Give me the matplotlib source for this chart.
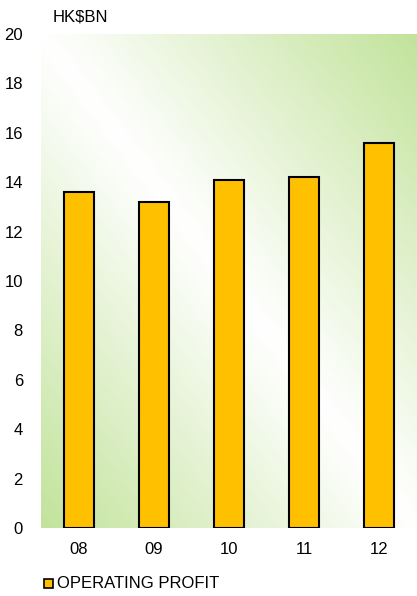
import numpy as np
import matplotlib
matplotlib.use("Agg")
import matplotlib.pyplot as plt
from matplotlib.colors import LinearSegmentedColormap
from matplotlib.patches import Rectangle

categories = ["08", "09", "10", "11", "12"]
operating_profit = [13.6, 13.2, 14.1, 14.2, 15.6]
yticks = [0, 2, 4, 6, 8, 10, 12, 14, 16, 18, 20]

plt.rcParams['font.family'] = ['Liberation Sans', 'DejaVu Sans']
plt.rcParams['font.size'] = 12

fig = plt.figure(figsize=(4.17, 5.96), dpi=100)
ax = fig.add_axes([41/417, 1-528/596, 376/417, 494/596])

# background gradient
n = 300
u, v = np.meshgrid(np.linspace(0, 1, n), np.linspace(0, 1, n))
g = np.abs(u + v - 1)
cmap = LinearSegmentedColormap.from_list(
    "g", [(0, "#ffffff"), (0.08, "#fbfdf8"), (1, "#c2e39b")])
ax.imshow(g, cmap=cmap, extent=[-0.5, 4.5, 0, 20], origin="lower",
          aspect="auto", zorder=0, vmin=0, vmax=1)

x = np.arange(len(categories))
ax.bar(x, operating_profit, width=0.4, color="#FFC000", edgecolor="black",
       linewidth=1.5, zorder=2)

ax.set_xlim(-0.5, 4.5)
ax.set_ylim(0, 20)
ax.set_yticks(yticks)
ax.set_xticks(x)
ax.set_xticklabels(categories)
ax.tick_params(length=0, pad=10)
ax.tick_params(axis='y', pad=13)
for s in ax.spines.values():
    s.set_visible(False)

fig.text(53/417, 1-17/596, "HK$BN", ha="left", va="center", fontsize=12)

# legend
fig.patches.append(Rectangle((44/417, 1-588/596), 9/417, 9/596,
                             transform=fig.transFigure, facecolor="#FFC000",
                             edgecolor="black", linewidth=1.2))
fig.text(57/417, 1-583/596, "OPERATING PROFIT", ha="left", va="center",
         fontsize=12)

fig.savefig("out.png", dpi=100)
